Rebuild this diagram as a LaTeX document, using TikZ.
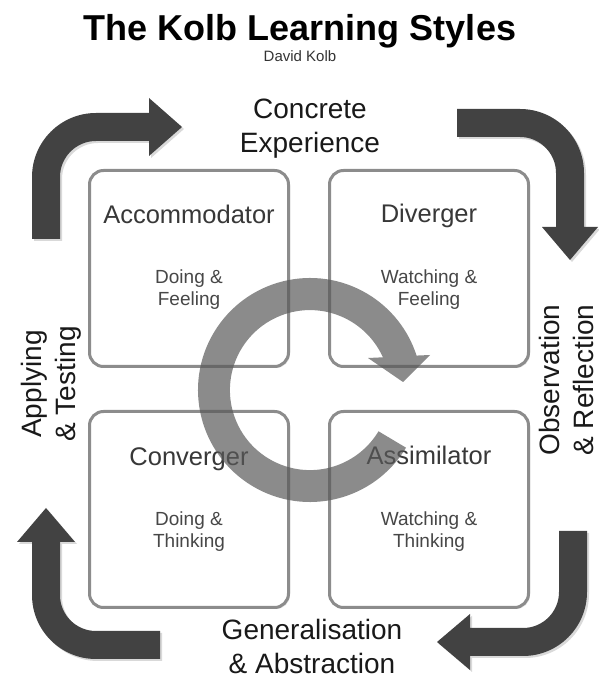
\documentclass[tikz,border=0pt]{standalone}
\usepackage{fontspec}
\setmainfont{Liberation Sans}
\usepackage{tikz}
\usetikzlibrary{shadows,positioning}

\definecolor{arrowgray}{HTML}{424242}
\definecolor{boxgray}{HTML}{8C8C8C}
\definecolor{ringgray}{HTML}{5A5A5A}

\tikzset{
  stylebox/.style={draw=boxgray, line width=3pt, fill=white, rounded corners=14pt,
    minimum width=199pt, minimum height=196pt,
    drop shadow={shadow xshift=1.5pt, shadow yshift=-1.5pt, opacity=0.25}},
  bendarrow/.style={fill=arrowgray,
    drop shadow={shadow xshift=2pt, shadow yshift=-2pt, opacity=0.3}},
  stage/.style={font=\fontsize{28}{34}\selectfont, text=black!90, align=center, inner sep=0pt},
  stylename/.style={font=\fontsize{25.5}{30}\selectfont, text=black!78, inner sep=0pt, anchor=base},
  styledesc/.style={font=\fontsize{19}{22}\selectfont, text=black!72, align=center, inner sep=0pt},
}

\begin{document}
\begin{tikzpicture}[x=1pt, y=1pt]
    \useasboundingbox (0,0) rectangle (598,678);

    % draw title
    \node[font=\bfseries\fontsize{36}{40}\selectfont, anchor=base] (title) at (300,637) {The Kolb Learning Styles};
    \node[font=\fontsize{15}{18}\selectfont, text=black!80, anchor=base] (author) at (300,616) {David Kolb};

    % draw corner arrows
    \fill[bendarrow] (32,439) -- (32,501) arc[start angle=180, end angle=90, radius=64]
        -- (149,565) -- (149,580) -- (182,551) -- (149,522) -- (149,537) -- (96,537)
        arc[start angle=90, end angle=180, radius=36] -- (60,439) -- cycle;
    \fill[bendarrow] (457,569) -- (520,569) arc[start angle=90, end angle=0, radius=64]
        -- (584,451) -- (598,451) -- (570,418) -- (542,451) -- (556,451) -- (556,505)
        arc[start angle=0, end angle=90, radius=36] -- (457,541) -- cycle;
    \fill[bendarrow] (160,19) -- (96,19) arc[start angle=270, end angle=180, radius=64]
        -- (32,136) -- (17,136) -- (46,170) -- (75,136) -- (60,136) -- (60,83)
        arc[start angle=180, end angle=270, radius=36] -- (160,47) -- cycle;
    \fill[bendarrow] (559,147) -- (559,86) arc[start angle=0, end angle=-90, radius=36]
        -- (470,50) -- (470,64) -- (437,36) -- (470,8) -- (470,22) -- (523,22)
        arc[start angle=-90, end angle=0, radius=64] -- (587,147) -- cycle;

    % draw stages
    \node[stage] (concrete) at (310,549) {Concrete\\Experience};
    \node[stage, rotate=90] (observation) at (566,298) {Observation\\\& Reflection};
    \node[stage] (general) at (312,32) {Generalisation\\\& Abstraction};
    \node[stage, rotate=90] (applying) at (51,294) {Applying\\\& Testing};

    % draw boxes
    \foreach \x/\y/\n in {189/409.5/acc, 429/409.5/div, 189/168.5/con, 429/168.5/ass}
    \node[stylebox] (\n) at (\x,\y) {};

    % draw style names
    \node[stylename] (accname) at (189,454) {Accommodator};
    \node[stylename] (divname) at (429,455) {Diverger};
    \node[stylename] (conname) at (189,212) {Converger};
    \node[stylename] (assname) at (429,213) {Assimilator};

    \node[styledesc] (accdesc) at (189,388) {Doing \&\\Feeling};
    \node[styledesc] (divdesc) at (429,388) {Watching \&\\Feeling};
    \node[styledesc] (condesc) at (189,146) {Doing \&\\Thinking};
    \node[styledesc] (assdesc) at (429,146) {Watching \&\\Thinking};

    % draw cycle arrow
    \coordinate (ringc) at (310,288);
    \fill[ringgray, fill opacity=0.7] ([shift={(-31:112)}]ringc)
        arc[start angle=-31, end angle=-342.1, radius=112]
        -- (430,323) -- (403,296) -- (368,320) -- (382.9,320.7)
        arc[start angle=24.2, end angle=329, radius=80] -- cycle;

\end{tikzpicture}
\end{document}
